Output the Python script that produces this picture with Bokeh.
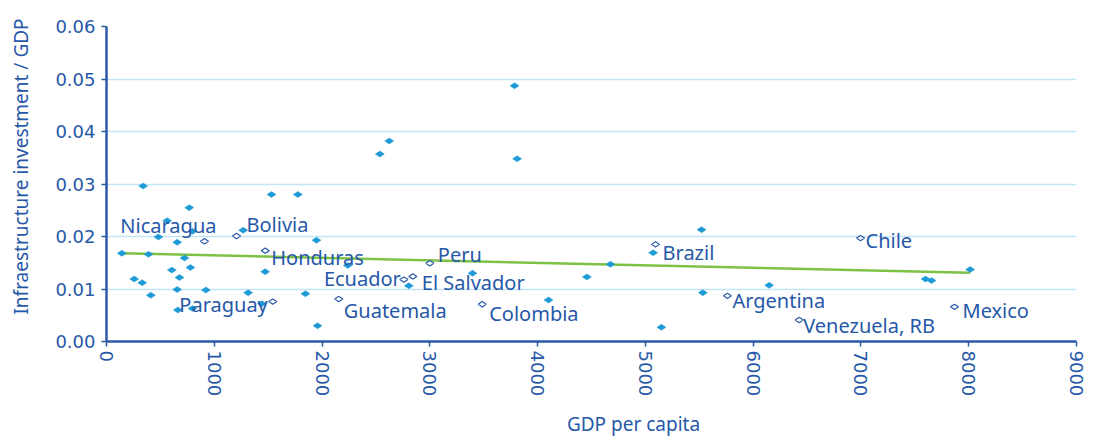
import math
from bokeh.plotting import figure
from bokeh.models import ColumnDataSource, FixedTicker, PrintfTickFormatter, Label
from bokeh.core.properties import value
from bokeh.embed import file_html
from bokeh.resources import INLINE

# ---- data ----
gdp_pc = [340, 1531, 1775, 768, 563, 798, 1268, 482, 656, 1948, 142, 390, 724, 2239,
          606, 779, 1472, 677, 257, 331, 656, 922, 1314, 411, 1846, 1441, 662, 798,
          1958, 2536, 2623, 3786, 3810, 2805, 3396, 4101, 4457, 4676, 5072, 5149,
          5521, 5533, 6148, 7599, 7655, 8013]
infra_gdp = [0.0296, 0.0280, 0.0280, 0.0255, 0.0230, 0.0210, 0.0212, 0.0199, 0.0189, 0.0193,
             0.0168, 0.0166, 0.0159, 0.0145, 0.0136, 0.0141, 0.0133, 0.0122, 0.0119, 0.0112,
             0.0099, 0.0098, 0.0093, 0.0088, 0.0091, 0.0072, 0.0060, 0.0063, 0.0030, 0.0357,
             0.0382, 0.0487, 0.0348, 0.0106, 0.0130, 0.0079, 0.0123, 0.0147, 0.0169, 0.0027,
             0.0213, 0.0093, 0.0107, 0.0119, 0.0116, 0.0137]

countries = ["Nicaragua", "Bolivia", "Honduras", "Ecuador", "El Salvador", "Peru", "Paraguay",
             "Guatemala", "Colombia", "Brazil", "Argentina", "Venezuela, RB", "Chile", "Mexico"]
country_gdp_pc = [909, 1206, 1473, 2759, 2842, 3000, 1543, 2155, 3486, 5094, 5761, 6427, 6996, 7868]
country_infra = [0.0191, 0.0201, 0.0173, 0.0118, 0.0124, 0.0149, 0.0076, 0.0081, 0.0071,
                 0.0185, 0.0087, 0.0041, 0.0197, 0.0066]

trend_x = [142, 8013]
trend_y = [0.0168, 0.0131]

x_ticks = [0, 1000, 2000, 3000, 4000, 5000, 6000, 7000, 8000, 9000]
y_ticks = [0.00, 0.01, 0.02, 0.03, 0.04, 0.05, 0.06]

x_title = "GDP per capita"
y_title = "Infraestructure investment / GDP"

# ---- label layout (screen offsets, px) ----
label_dx = [12, 10, 6, -3, 9, 8, -5, 5, 7, 7, 5, 4, 5, 8]
label_dy = [-16, -11, 7, -1, 6, -9, 3, 12, 9, 8, 5, 6, 2, 4]
label_align = ["right", "left", "left", "right", "left", "left", "right",
               "left", "left", "left", "left", "left", "left", "left"]

TEXT = "#2658A8"
AXIS = "#2B5AA8"
GRID = "#C4E5F5"
FILL = "#1E9AD6"
TREND = "#7DC244"

p = figure(width=1097, height=442, x_range=(0, 9000), y_range=(0, 0.06),
           output_backend="svg", toolbar_location=None,
           min_border_left=106, min_border_right=21, min_border_top=26, min_border_bottom=101)
p.outline_line_color = None
p.background_fill_color = "white"

p.xgrid.grid_line_color = None
p.ygrid.grid_line_color = GRID
p.ygrid.grid_line_width = 1.5

p.xaxis.ticker = FixedTicker(ticks=x_ticks)
p.yaxis.ticker = FixedTicker(ticks=y_ticks)
p.yaxis.formatter = PrintfTickFormatter(format="%.2f")
p.xaxis.major_label_orientation = "vertical"

for ax in (p.xaxis, p.yaxis):
    ax.axis_line_color = AXIS
    ax.axis_line_width = 2.5
    ax.major_tick_line_color = AXIS
    ax.major_tick_line_width = 1.5
    ax.major_tick_out = 5
    ax.major_tick_in = 0
    ax.minor_tick_line_color = None
    ax.major_label_text_color = TEXT
    ax.major_label_text_font = "DejaVu Sans"
    ax.major_label_text_font_size = "18px"

p.xaxis.major_label_standoff = 4
p.yaxis.major_label_standoff = 6

# axis titles placed in the side panels (screen px)
p.add_layout(Label(x=527, y=2, x_units="screen", y_units="screen", text=x_title,
                   text_align="center", text_baseline="middle", text_color=TEXT,
                   text_font="Noto Sans", text_font_size="19px"), "below")
p.add_layout(Label(x=-6, y=175, x_units="screen", y_units="screen", text=y_title,
                   angle=math.pi / 2, text_align="center", text_baseline="middle",
                   text_color=TEXT, text_font="Noto Sans", text_font_size="19px"), "left")

p.line(trend_x, trend_y, line_color=TREND, line_width=2.5)

p.scatter(gdp_pc, infra_gdp, marker="diamond", size=9, angle=1.5708,
          fill_color=FILL, line_color=FILL, line_width=0.5)

src = ColumnDataSource(dict(x=country_gdp_pc, y=country_infra, name=countries,
                            dx=label_dx, dy=label_dy, align=label_align))
p.scatter("x", "y", source=src, marker="diamond", size=8, angle=1.5708,
          fill_color="white", line_color=AXIS, line_width=1.2)
p.text("x", "y", text="name", source=src, x_offset="dx", y_offset="dy",
       text_align="align", text_baseline="middle", text_color=TEXT,
       text_font=value("Noto Sans"), text_font_size="20px")

open("out.html", "w").write(file_html(p, INLINE))
